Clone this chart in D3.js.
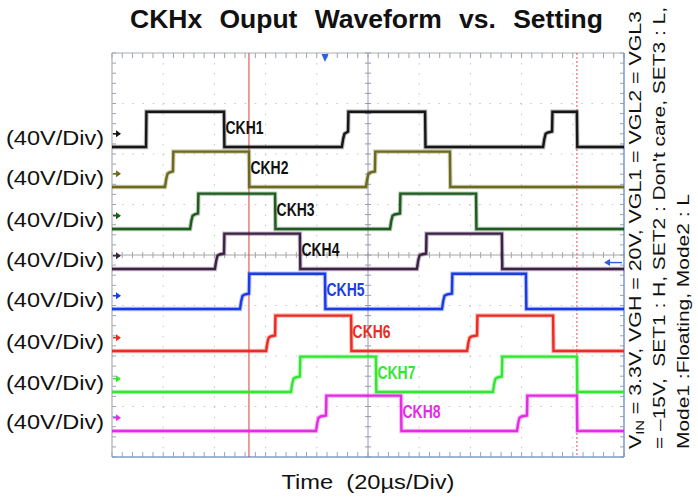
<!DOCTYPE html>
<html><head><meta charset="utf-8">
<script src="https://cdn.jsdelivr.net/npm/d3@7"></script>
<style>body{margin:0;background:#fff}svg{display:block}</style>
</head><body><svg id="c" width="698" height="499"></svg>
<script>
// ---------- data ----------
const channels = ["CKH1","CKH2","CKH3","CKH4","CKH5","CKH6","CKH7","CKH8"];
const channelColors = ["#161616","#6b6a1e","#1f5a1f","#3d2246","#1a3be6","#ec2b22","#33e633","#e52ce5"];
const labelColors = ["#111111","#111111","#111111","#111111","#1a3be6","#ec2b22","#33e633","#e52ce5"];
const voltsPerDiv = "(40V/Div)";
// ground offset of each channel on screen (V)
const offsetsV = [96, 64.4, 31.1, -0.6, -32.3, -65.5, -98, -128.9];
const lowV = -10.5, midV = 1, highV = 17.5;
// pulses: [step start µs, rise µs, fall µs]
const ckh1Pulses = [[13.3,13.3,43.75],[89.8,92.2,122.3],[168.4,171.9,181.6]];
const ckh2Pulses = [[20.7,23.8,53.5],[99.2,102.7,132.0]];
const ckh3Pulses = [[30.5,33.6,63.7],[108.6,112.5,142.2]];
const ckh4Pulses = [[40.2,43.75,73.4],[119.1,122.7,152.3]];
const ckh5Pulses = [[50.0,53.5,83.2],[128.9,132.8,161.7]];
const ckh6Pulses = [[60.2,63.7,93.4],[138.7,142.6,172.3]];
const ckh7Pulses = [[69.9,73.4,103.1],[148.8,152.3,181.6]];
const ckh8Pulses = [[79.7,83.6,112.9],[158.2,162.1,181.6]];
const allPulses = [ckh1Pulses,ckh2Pulses,ckh3Pulses,ckh4Pulses,ckh5Pulses,ckh6Pulses,ckh7Pulses,ckh8Pulses];
const cursorSolid = 53.5, cursorDashed = 181.6, triggerTime = 83.2, triggerLevelV = -6;
const titleText = "CKHx Ouput Waveform vs. Setting";
const xTitle = "Time  (20\u00b5s/Div)";
const noteLines = [
  [["V",false],["IN",true],[" = 3.3V, VGH = 20V, VGL1 = VGL2 = VGL3",false]],
  [["= \u201315V,  SET1 : H, SET2 : Don't care, SET3 : L,",false]],
  [["Mode1 :Floating, Mode2 : L",false]]
];

// ---------- layout ----------
const svg = d3.select("#c");
const FONT = "'Liberation Sans', Arial, Helvetica, sans-serif";
const x = d3.scaleLinear().domain([0,200]).range([112,624]);
const y = d3.scaleLinear().domain([-160,160]).range([457,53]);

// grid
const g = svg.append("g");
const vGrid = d3.range(20,200,20).filter(d=>d!==100);
const hGrid = d3.range(-120,160,40).filter(d=>d!==0);
g.selectAll(".vg").data(vGrid).join("line")
  .attr("x1",d=>x(d)).attr("x2",d=>x(d)).attr("y1",y(160)).attr("y2",y(-160))
  .attr("stroke","#c4c4c4").attr("stroke-width",1).attr("stroke-dasharray","1.5,8.6");
g.selectAll(".hg").data(hGrid).join("line")
  .attr("y1",d=>y(d)).attr("y2",d=>y(d)).attr("x1",x(0)).attr("x2",x(200))
  .attr("stroke","#c4c4c4").attr("stroke-width",1).attr("stroke-dasharray","1.5,8.7");
// center axes
g.append("line").attr("x1",x(0)).attr("x2",x(200)).attr("y1",y(0)).attr("y2",y(0)).attr("stroke","#a6a6a6").attr("stroke-width",1);
g.append("line").attr("x1",x(100)).attr("x2",x(100)).attr("y1",y(160)).attr("y2",y(-160)).attr("stroke","#9898b4").attr("stroke-width",1);
const minorT = d3.range(0,200.01,4);
const minorV = d3.range(-160,160.01,8);
g.selectAll(".tc").data(minorT).join("line")
  .attr("x1",d=>x(d)).attr("x2",d=>x(d)).attr("y1",y(0)-3).attr("y2",y(0)+3).attr("stroke","#a6a6a6");
g.selectAll(".vc").data(minorV).join("line")
  .attr("y1",d=>y(d)).attr("y2",d=>y(d)).attr("x1",x(100)-3).attr("x2",x(100)+3).attr("stroke","#9898b4");
// border ticks
g.selectAll(".tt").data(minorT).join("line")
  .attr("x1",d=>x(d)).attr("x2",d=>x(d)).attr("y1",y(160)).attr("y2",y(160)+5).attr("stroke","#9aa4b4");
g.selectAll(".tb").data(minorT).join("line")
  .attr("x1",d=>x(d)).attr("x2",d=>x(d)).attr("y1",y(-160)).attr("y2",y(-160)-5).attr("stroke","#9aa4b4");
g.selectAll(".tl").data(minorV).join("line")
  .attr("y1",d=>y(d)).attr("y2",d=>y(d)).attr("x1",x(0)).attr("x2",x(0)+4).attr("stroke","#9aa4b4");
g.selectAll(".tr").data(minorV).join("line")
  .attr("y1",d=>y(d)).attr("y2",d=>y(d)).attr("x1",x(200)).attr("x2",x(200)-4).attr("stroke","#9aa4b4");
// border
g.append("line").attr("x1",x(0)).attr("x2",x(200)).attr("y1",y(160)).attr("y2",y(160)).attr("stroke","#a9adb6").attr("stroke-width",1.2);
g.append("line").attr("x1",x(0)).attr("x2",x(0)).attr("y1",y(160)).attr("y2",y(-160)).attr("stroke","#a9adb6").attr("stroke-width",1.2);
g.append("line").attr("x1",x(0)).attr("x2",x(200)).attr("y1",y(-160)).attr("y2",y(-160)).attr("stroke","#7f9ccc").attr("stroke-width",1.4);
g.append("line").attr("x1",x(200)).attr("x2",x(200)).attr("y1",y(160)).attr("y2",y(-160)).attr("stroke","#6f90cc").attr("stroke-width",1.4);

// cursors
g.append("line").attr("x1",x(cursorSolid)).attr("x2",x(cursorSolid)).attr("y1",y(160)).attr("y2",y(-160))
  .attr("stroke","#e23a3a").attr("stroke-width",1);
g.append("line").attr("x1",x(cursorDashed)).attr("x2",x(cursorDashed)).attr("y1",y(160)).attr("y2",y(-160))
  .attr("stroke","#e85050").attr("stroke-width",1).attr("stroke-dasharray","2,2");
// trigger markers
const tx = x(triggerTime);
g.append("path").attr("d",`M${tx-3.5},${y(160)+1}L${tx+3.5},${y(160)+1}L${tx},${y(160)+9}Z`).attr("fill","#2a5fe0");
const ty = y(triggerLevelV);
g.append("path").attr("d",`M${x(200)-18},${ty}L${x(200)-2},${ty}`).attr("stroke","#2a5fe0").attr("stroke-width",1.4);
g.append("path").attr("d",`M${x(200)-20},${ty}L${x(200)-14},${ty-3.5}L${x(200)-14},${ty+3.5}Z`).attr("fill","#2a5fe0");

// traces
const line = d3.line().x(d=>x(d[0])).y(d=>y(d[1]));
function tracePoints(pulses, off){
  const pts = [[0, off+lowV]];
  pulses.forEach(([s,r,f])=>{
    pts.push([s, off+lowV]);
    if (r > s){
      pts.push([s+0.5, off+midV-5]);
      pts.push([s+1.0, off+midV-1]);
      pts.push([s+1.8, off+midV]);
      pts.push([r, off+midV+0.8]);
    }
    pts.push([r+0.15, off+highV]);
    pts.push([f, off+highV]);
    pts.push([f+0.15, off+lowV]);
  });
  pts.push([200, off+lowV]);
  return pts;
}
const traces = svg.append("g");
channels.forEach((name,i)=>{
  const pts = tracePoints(allPulses[i], offsetsV[i]);
  traces.append("path").attr("d",line(pts)).attr("fill","none")
    .attr("stroke",channelColors[i]).attr("stroke-width",4.5).attr("stroke-opacity",0.3);
  traces.append("path").attr("d",line(pts)).attr("fill","none")
    .attr("stroke",channelColors[i]).attr("stroke-width",2.4);
  // ground marker
  const gy = y(offsetsV[i]);
  traces.append("path").attr("d",`M${x(0)+1},${gy}L${x(0)+8},${gy}`).attr("stroke",channelColors[i]).attr("stroke-width",1.5);
  traces.append("path").attr("d",`M${x(0)+9},${gy}L${x(0)+4},${gy-3.5}L${x(0)+4},${gy+3.5}Z`).attr("fill",channelColors[i]);
  // channel label
  traces.append("text").attr("x",x(allPulses[i][0][2])+1.5).attr("y",gy+0.5)
    .attr("font-family",FONT).attr("font-weight","bold").attr("font-size",18)
    .attr("textLength",38).attr("lengthAdjust","spacingAndGlyphs")
    .attr("fill",labelColors[i]).text(name);
  // left scale label
  svg.append("text").attr("x",6).attr("y",gy+11)
    .attr("font-family",FONT).attr("font-size",20)
    .attr("textLength",98).attr("lengthAdjust","spacingAndGlyphs")
    .attr("fill","#111").text(voltsPerDiv);
});

// title
const title = svg.append("text").attr("x",130).attr("y",28)
  .attr("font-family",FONT).attr("font-weight","bold").attr("font-size",26.5)
  .attr("fill","#111").text(titleText);
const tl = title.node().getComputedTextLength();
const nSpaces = titleText.split(" ").length-1;
title.attr("word-spacing", Math.max(0,(473 - tl)/nSpaces));

// x-axis title
svg.append("text").attr("x",x(100)).attr("y",489).attr("text-anchor","middle")
  .attr("font-family",FONT).attr("font-size",21)
  .attr("textLength",173).attr("lengthAdjust","spacingAndGlyphs")
  .attr("fill","#111").style("white-space","pre").text(xTitle);

// rotated notes
const noteX = [641, 665, 689];
const noteLen = [438, 442, 255];
noteLines.forEach((parts,i)=>{
  const t = svg.append("text").attr("transform",`translate(${noteX[i]},449) rotate(-90)`)
    .attr("font-family",FONT).attr("font-size",16).attr("fill","#111")
    .style("white-space","pre");
  parts.forEach(([s,sub])=>{
    const ts = t.append("tspan").text(s);
    if (sub) ts.attr("font-size",11).attr("dy",3);
    else if (t.selectAll("tspan").size()>1) ts.attr("dy",-3);
  });
  t.attr("textLength",noteLen[i]).attr("lengthAdjust","spacingAndGlyphs");
});
</script></body></html>
